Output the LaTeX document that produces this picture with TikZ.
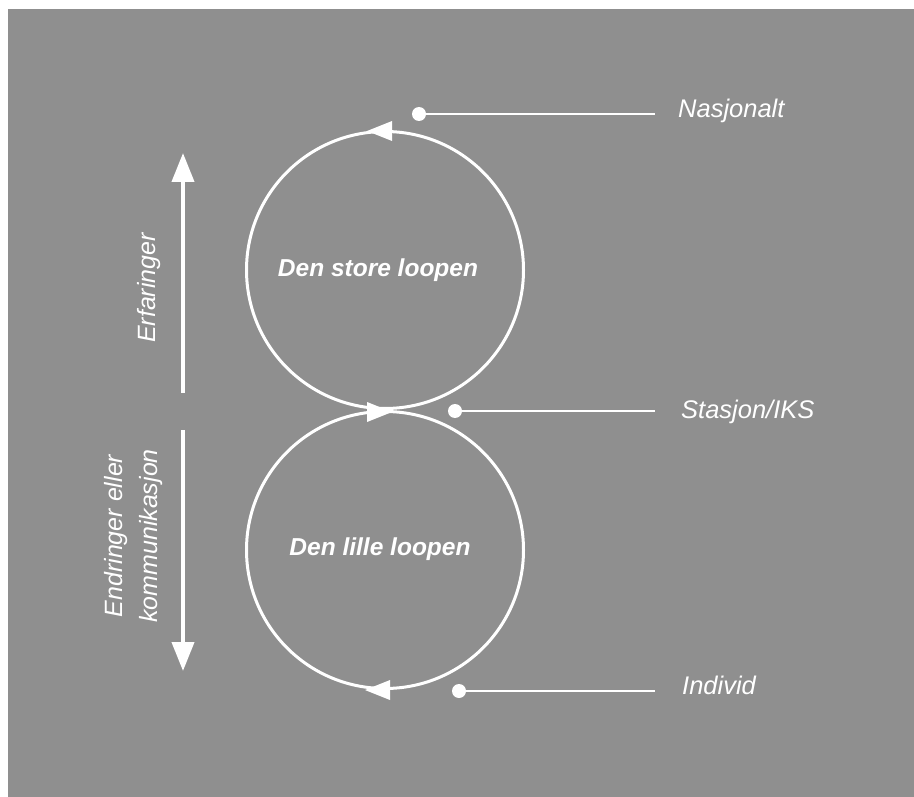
\documentclass[tikz,border=0pt]{standalone}
\usepackage{fontspec}
\setmainfont{Liberation Sans}
\usetikzlibrary{arrows.meta}
\definecolor{bggray}{RGB}{143,143,143}
\begin{document}
\begin{tikzpicture}[x=1pt,y=-1pt,
  loop/.style={circle,draw=white,line width=3pt,minimum size=277pt,inner sep=0pt},
  looptxt/.style={text=white,font=\fontsize{24.5}{28}\selectfont\bfseries\itshape},
  lbl/.style={anchor=base west,text=white,font=\fontsize{25.5}{28}\selectfont\itshape,inner sep=0pt},
  dot/.style={circle,fill=white,minimum size=14pt,inner sep=0pt},
  leader/.style={draw=white,line width=2pt},
  bigarrow/.style={draw=white,line width=4pt,-{Triangle[length=29pt,width=22pt]}},
  side/.style={text=white,font=\fontsize{25}{35}\selectfont\itshape,rotate=90,align=center}]
\useasboundingbox (0,0) rectangle (914,797);
\fill[white] (0,0) rectangle (914,797);
\fill[bggray] (8,9) rectangle (914,797);
% loops
\node[loop] (big) at (385,270) {};
\node[loop] (small) at (385,550) {};
\node[looptxt] (bigtxt) at (378,270) {Den store loopen};
\node[looptxt] (smalltxt) at (380,549) {Den lille loopen};
% arrowheads on loops
\fill[white] (392,121) -- (367,131) -- (392,141) -- cycle;
\fill[white] (367,402) -- (392,412) -- (367,422) -- cycle;
\fill[white] (390,680) -- (365,690) -- (390,700) -- cycle;
% level markers
\node[dot] (d1) at (419,114) {};
\node[dot] (d2) at (455,411) {};
\node[dot] (d3) at (459,691) {};
\coordinate (e1) at (655,114);
\coordinate (e2) at (655,411);
\coordinate (e3) at (655,691);
\draw[leader] (d1) -- (e1);
\draw[leader] (d2) -- (e2);
\draw[leader] (d3) -- (e3);
\node[lbl] (n1) at (678,118) {Nasjonalt};
\node[lbl] (n2) at (681,418) {Stasjon/IKS};
\node[lbl] (n3) at (682,694) {Individ};
% side arrows
\coordinate (a1s) at (183,393);
\coordinate (a1e) at (183,153);
\coordinate (a2s) at (183,430);
\coordinate (a2e) at (183,671);
\draw[bigarrow] (a1s) -- (a1e);
\draw[bigarrow] (a2s) -- (a2e);
\node[side] (erf) at (149,288) {Erfaringer};
\node[side] (endr) at (134,536) {Endringer eller\\kommunikasjon};
\end{tikzpicture}
\end{document}
